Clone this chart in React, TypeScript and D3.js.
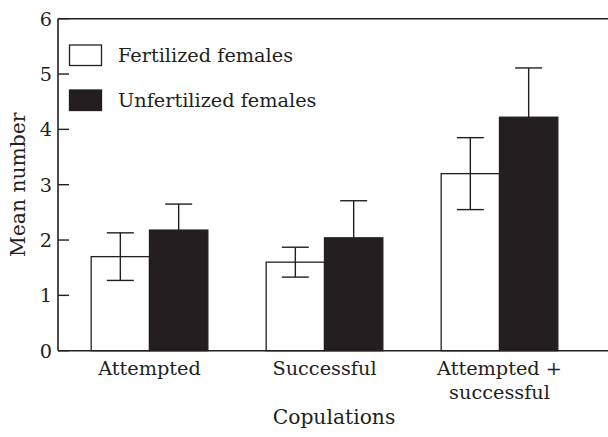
import React from "react";
import * as d3 from "d3";

const categories: string[][] = [["Attempted"], ["Successful"], ["Attempted +", "successful"]];
const categoryKeys = ["Attempted", "Successful", "Attempted + successful"];
const seriesNames = ["Fertilized females", "Unfertilized females"];
const fertilizedMeans = [1.7, 1.6, 3.2];
const fertilizedSE = [0.43, 0.27, 0.65];
const unfertilizedMeans = [2.18, 2.04, 4.22];
const unfertilizedSE = [0.47, 0.67, 0.89];
const yTicks = [0, 1, 2, 3, 4, 5, 6];

const W = 608;
const H = 437;
const FONT = "'DejaVu Serif', serif";
const FS = 19.3;
const FT = 20.3;
const INK = "#231f20";

export default function App() {
  const axisX = 58;
  const y = d3.scaleLinear().domain([0, 6]).range([350.7, 18.7]);
  const x = d3
    .scaleBand<string>()
    .domain(categoryKeys)
    .range([62, 587])
    .paddingInner(1 / 3)
    .paddingOuter(1 / 6);
  const xs = d3.scaleBand<string>().domain(seriesNames).range([0, x.bandwidth()]);
  const series = [
    { name: seriesNames[0], means: fertilizedMeans, se: fertilizedSE, fill: "#ffffff" },
    { name: seriesNames[1], means: unfertilizedMeans, se: unfertilizedSE, fill: INK },
  ];
  const capHalf = 13.5;

  return (
    <svg width={W} height={H} style={{ position: "absolute", left: 0, top: 0 }}>
      <rect width={W} height={H} fill="#fff" />
      {series.map((s) =>
        categoryKeys.map((c, i) => {
          const x0 = (x(c) ?? 0) + (xs(s.name) ?? 0);
          const bw = xs.bandwidth();
          const cx = x0 + bw / 2;
          const hi = y(s.means[i] + s.se[i]);
          const lo = y(s.means[i] - s.se[i]);
          return (
            <g key={s.name + c}>
              <line x1={cx} x2={cx} y1={hi} y2={lo} stroke={INK} strokeWidth={1.4} />
              <line x1={cx - capHalf} x2={cx + capHalf} y1={hi} y2={hi} stroke={INK} strokeWidth={1.4} />
              <line x1={cx - capHalf} x2={cx + capHalf} y1={lo} y2={lo} stroke={INK} strokeWidth={1.4} />
              <rect x={x0} y={y(s.means[i])} width={bw} height={y(0) - y(s.means[i])} fill={s.fill} fillOpacity={s.fill === "#ffffff" ? 0 : 1} stroke={INK} strokeWidth={1.3} />
            </g>
          );
        })
      )}
      <line x1={axisX} x2={W} y1={y(6)} y2={y(6)} stroke={INK} strokeWidth={1.6} />
      <line x1={axisX} x2={W} y1={y(0)} y2={y(0)} stroke={INK} strokeWidth={1.6} />
      <line x1={axisX} x2={axisX} y1={y(6)} y2={y(0)} stroke={INK} strokeWidth={1.6} />
      {yTicks.map((t) => (
        <g key={t}>
          <line x1={axisX} x2={axisX + 11} y1={y(t)} y2={y(t)} stroke={INK} strokeWidth={1.4} />
          <text x={52} y={y(t)} dy="0.36em" textAnchor="end" fontFamily={FONT} fontSize={FS} fill={INK}>
            {t}
          </text>
        </g>
      ))}
      {categories.map((lines, i) => (
        <text key={i} textAnchor="middle" fontFamily={FONT} fontSize={FS} fill={INK}>
          {lines.map((l, j) => (
            <tspan key={j} x={(x(categoryKeys[i]) ?? 0) + x.bandwidth() / 2} y={375 + j * 24}>
              {l}
            </tspan>
          ))}
        </text>
      ))}
      <text x={334} y={424} textAnchor="middle" fontFamily={FONT} fontSize={FT} fill={INK}>
        Copulations
      </text>
      <text transform={`translate(25,${(y(0) + y(6)) / 2}) rotate(-90)`} textAnchor="middle" fontFamily={FONT} fontSize={FT} fill={INK}>
        Mean number
      </text>
      {series.map((s, i) => (
        <g key={s.name}>
          <rect x={69.5} y={45 + i * 45} width={32} height={20.5} fill={s.fill} stroke={INK} strokeWidth={1.3} />
          <text x={118} y={62 + i * 45} fontFamily={FONT} fontSize={FS} fill={INK}>
            {s.name}
          </text>
        </g>
      ))}
    </svg>
  );
}
